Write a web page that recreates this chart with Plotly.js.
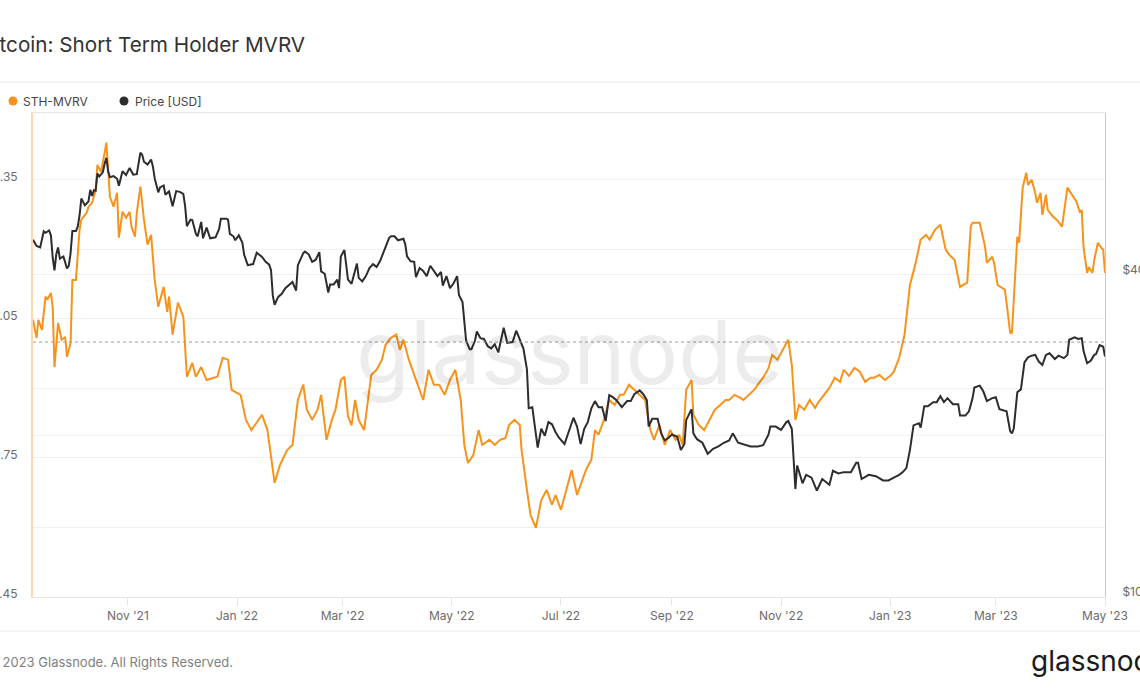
<!DOCTYPE html>
<html>
<head>
<meta charset="utf-8">
<script src="https://cdn.plot.ly/plotly-3.0.1.min.js"></script>
<style>
  html, body { margin: 0; padding: 0; background: #fff; }
  #chart { width: 1140px; height: 694px; }
</style>
</head>
<body>
<div id="chart"></div>
<script>
// STH-MVRV
var mvrvDates = [
  "2021-09-09","2021-09-11","2021-09-12","2021-09-14","2021-09-16","2021-09-17","2021-09-19","2021-09-20","2021-09-21","2021-09-23","2021-09-25","2021-09-27","2021-09-28","2021-09-30",
  "2021-10-01","2021-10-03","2021-10-05","2021-10-06","2021-10-09","2021-10-10","2021-10-12","2021-10-14","2021-10-15","2021-10-17","2021-10-19","2021-10-20","2021-10-22","2021-10-24","2021-10-26","2021-10-27","2021-10-29","2021-10-31",
  "2021-11-02","2021-11-03","2021-11-05","2021-11-06","2021-11-08","2021-11-10","2021-11-12","2021-11-14","2021-11-16","2021-11-18","2021-11-21","2021-11-23","2021-11-24","2021-11-26","2021-11-29",
  "2021-12-02","2021-12-04","2021-12-07","2021-12-09","2021-12-12","2021-12-15","2021-12-21","2021-12-24","2021-12-27","2021-12-29",
  "2022-01-03","2022-01-06","2022-01-09","2022-01-11","2022-01-15","2022-01-18","2022-01-22","2022-01-25","2022-01-29",
  "2022-02-01","2022-02-04","2022-02-07","2022-02-09","2022-02-12","2022-02-15","2022-02-17","2022-02-20","2022-02-23","2022-02-25","2022-02-28",
  "2022-03-02","2022-03-04","2022-03-06","2022-03-08","2022-03-10","2022-03-13","2022-03-15","2022-03-17","2022-03-20","2022-03-23","2022-03-25","2022-03-28","2022-03-31",
  "2022-04-02","2022-04-04","2022-04-07","2022-04-10","2022-04-12","2022-04-15","2022-04-18","2022-04-21","2022-04-24","2022-04-27","2022-04-30",
  "2022-05-03","2022-05-06","2022-05-08","2022-05-10","2022-05-13","2022-05-16","2022-05-18","2022-05-22","2022-05-25","2022-05-28","2022-05-31",
  "2022-06-02","2022-06-05","2022-06-08","2022-06-09","2022-06-12","2022-06-14","2022-06-17","2022-06-20","2022-06-23","2022-06-26","2022-06-28",
  "2022-07-01","2022-07-04","2022-07-07","2022-07-10","2022-07-13","2022-07-15","2022-07-18","2022-07-20","2022-07-22","2022-07-25","2022-07-28","2022-07-31",
  "2022-08-03","2022-08-05","2022-08-08","2022-08-11","2022-08-14","2022-08-17","2022-08-20","2022-08-22","2022-08-25","2022-08-28","2022-08-31",
  "2022-09-03","2022-09-05","2022-09-07","2022-09-09","2022-09-12","2022-09-13","2022-09-16","2022-09-19","2022-09-22","2022-09-25","2022-09-28",
  "2022-10-01","2022-10-03","2022-10-06","2022-10-09","2022-10-11","2022-10-14","2022-10-17","2022-10-19","2022-10-22","2022-10-25","2022-10-27","2022-10-30",
  "2022-11-02","2022-11-05","2022-11-07","2022-11-09","2022-11-11","2022-11-14","2022-11-17","2022-11-20","2022-11-22","2022-11-25","2022-11-28",
  "2022-12-01","2022-12-04","2022-12-06","2022-12-09","2022-12-12","2022-12-15","2022-12-18","2022-12-21","2022-12-23","2022-12-26","2022-12-29",
  "2023-01-01","2023-01-03","2023-01-06","2023-01-09","2023-01-12","2023-01-15","2023-01-18","2023-01-21","2023-01-23","2023-01-26","2023-01-29",
  "2023-02-01","2023-02-03","2023-02-06","2023-02-09","2023-02-13","2023-02-15","2023-02-16","2023-02-20","2023-02-23","2023-02-24","2023-02-27","2023-02-28",
  "2023-03-02","2023-03-06","2023-03-07","2023-03-09","2023-03-10","2023-03-12","2023-03-13","2023-03-14","2023-03-16","2023-03-18","2023-03-19","2023-03-21","2023-03-23","2023-03-24","2023-03-26","2023-03-27","2023-03-29","2023-03-30",
  "2023-04-02","2023-04-04","2023-04-07","2023-04-10","2023-04-12","2023-04-15","2023-04-17","2023-04-18","2023-04-19","2023-04-21","2023-04-22","2023-04-24","2023-04-25","2023-04-27","2023-04-29","2023-04-30",
  "2023-05-01"
];
var mvrvValues = [
  1.048,1.009,1.048,1.026,1.098,1.091,1.106,1.076,0.946,1.041,1.005,1.011,0.968,0.998,
  1.134,1.134,1.242,1.264,1.279,1.292,1.300,1.328,1.382,1.367,1.408,1.430,1.313,1.292,1.322,1.225,1.281,1.268,
  1.281,1.249,1.227,1.279,1.335,1.264,1.210,1.231,1.134,1.076,1.119,1.065,1.098,1.016,1.085,
  1.054,0.925,0.955,0.925,0.946,0.918,0.925,0.966,0.962,0.897,
  0.886,0.832,0.810,0.821,0.843,0.810,0.696,0.735,0.767,
  0.778,0.875,0.908,0.854,0.832,0.854,0.886,0.789,0.832,0.854,0.918,
  0.925,0.840,0.820,0.875,0.832,0.810,0.875,0.929,0.940,0.962,0.994,1.009,1.016,
  0.983,1.005,0.962,0.929,0.908,0.875,0.940,0.908,0.908,0.886,0.918,
  0.940,0.875,0.778,0.739,0.756,0.810,0.778,0.789,0.778,0.789,0.793,
  0.821,0.832,0.821,0.767,0.681,0.627,0.599,0.659,0.681,0.649,0.670,
  0.638,0.681,0.724,0.670,0.703,0.724,0.746,0.810,0.800,0.832,0.875,0.864,
  0.886,0.886,0.908,0.897,0.886,0.875,0.810,0.789,0.821,0.778,0.810,
  0.789,0.800,0.778,0.897,0.918,0.843,0.821,0.810,0.832,0.854,0.864,
  0.875,0.875,0.886,0.880,0.875,0.886,0.897,0.908,0.923,0.944,0.972,0.962,
  0.983,1.005,0.951,0.832,0.864,0.854,0.875,0.858,0.871,0.886,0.901,
  0.923,0.914,0.940,0.927,0.944,0.936,0.914,0.923,0.923,0.929,0.918,
  0.927,0.936,0.966,1.016,1.123,1.167,1.221,1.231,1.221,1.242,1.253,
  1.199,1.188,1.177,1.119,1.128,1.249,1.257,1.257,1.205,1.171,1.184,1.171,
  1.123,1.113,1.085,1.020,1.020,1.149,1.227,1.214,1.333,1.365,1.339,1.350,1.322,1.300,1.322,1.274,1.318,1.285,
  1.270,1.264,1.249,1.333,1.322,1.303,1.279,1.285,1.205,1.149,1.162,1.149,1.177,1.214,1.203,1.199,
  1.149
];

// BTC price in USD (thousands)
var priceDates = [
  "2021-09-09","2021-09-11","2021-09-13","2021-09-15","2021-09-16","2021-09-18","2021-09-19","2021-09-20","2021-09-21","2021-09-22","2021-09-23","2021-09-24","2021-09-26","2021-09-28","2021-09-29","2021-09-30",
  "2021-10-01","2021-10-03","2021-10-04","2021-10-05","2021-10-06","2021-10-08","2021-10-10","2021-10-11","2021-10-12","2021-10-13","2021-10-14","2021-10-15","2021-10-16","2021-10-18","2021-10-19","2021-10-20","2021-10-21","2021-10-22","2021-10-24","2021-10-26","2021-10-27","2021-10-28","2021-10-29","2021-10-31",
  "2021-11-02","2021-11-04","2021-11-06","2021-11-08","2021-11-09","2021-11-10","2021-11-12","2021-11-14","2021-11-15","2021-11-16","2021-11-18","2021-11-19","2021-11-21","2021-11-22","2021-11-24","2021-11-26","2021-11-28","2021-11-30",
  "2021-12-02","2021-12-03","2021-12-04","2021-12-06","2021-12-07","2021-12-09","2021-12-10","2021-12-12","2021-12-13","2021-12-15","2021-12-17","2021-12-20","2021-12-22","2021-12-23","2021-12-26","2021-12-27","2021-12-28","2021-12-30","2021-12-31",
  "2022-01-02","2022-01-04","2022-01-05","2022-01-07","2022-01-10","2022-01-12","2022-01-15","2022-01-17","2022-01-19","2022-01-20","2022-01-21","2022-01-22","2022-01-24","2022-01-26","2022-01-28","2022-01-30",
  "2022-02-01","2022-02-03","2022-02-04","2022-02-07","2022-02-08","2022-02-10","2022-02-12","2022-02-14","2022-02-16","2022-02-17","2022-02-19","2022-02-21","2022-02-22","2022-02-24","2022-02-26","2022-02-27","2022-02-28",
  "2022-03-02","2022-03-04","2022-03-06","2022-03-09","2022-03-10","2022-03-12","2022-03-14","2022-03-16","2022-03-18","2022-03-20","2022-03-22","2022-03-24","2022-03-27","2022-03-28","2022-03-30",
  "2022-04-01","2022-04-04","2022-04-05","2022-04-06","2022-04-08","2022-04-10","2022-04-11","2022-04-13","2022-04-15","2022-04-17","2022-04-19","2022-04-21","2022-04-23","2022-04-25","2022-04-26","2022-04-28","2022-04-30",
  "2022-05-02","2022-05-04","2022-05-05","2022-05-07","2022-05-09","2022-05-11","2022-05-12","2022-05-14","2022-05-15","2022-05-17","2022-05-19","2022-05-21","2022-05-23","2022-05-25","2022-05-27","2022-05-30",
  "2022-06-01","2022-06-04","2022-06-06","2022-06-08","2022-06-10","2022-06-12","2022-06-13","2022-06-15","2022-06-17","2022-06-18","2022-06-20","2022-06-22","2022-06-24","2022-06-26","2022-06-28","2022-06-30",
  "2022-07-03","2022-07-05","2022-07-08","2022-07-10","2022-07-12","2022-07-14","2022-07-16","2022-07-18","2022-07-20","2022-07-22","2022-07-24","2022-07-26","2022-07-28","2022-07-30",
  "2022-08-01","2022-08-04","2022-08-07","2022-08-09","2022-08-11","2022-08-14","2022-08-16","2022-08-18","2022-08-19","2022-08-21","2022-08-24","2022-08-26","2022-08-28","2022-08-30",
  "2022-09-01","2022-09-04","2022-09-06","2022-09-08","2022-09-09","2022-09-12","2022-09-13","2022-09-15","2022-09-18","2022-09-21","2022-09-24","2022-09-27","2022-09-30",
  "2022-10-03","2022-10-05","2022-10-08","2022-10-12","2022-10-15","2022-10-19","2022-10-22","2022-10-25","2022-10-26","2022-10-29",
  "2022-11-01","2022-11-04","2022-11-05","2022-11-07","2022-11-08","2022-11-09","2022-11-10","2022-11-13","2022-11-15","2022-11-18","2022-11-21","2022-11-24","2022-11-28","2022-11-30",
  "2022-12-03","2022-12-06","2022-12-10","2022-12-13","2022-12-14","2022-12-16","2022-12-20","2022-12-24","2022-12-28","2022-12-31",
  "2023-01-03","2023-01-06","2023-01-08","2023-01-10","2023-01-12","2023-01-14","2023-01-17","2023-01-18","2023-01-20","2023-01-22","2023-01-25","2023-01-27","2023-01-29","2023-01-31",
  "2023-02-02","2023-02-05","2023-02-08","2023-02-09","2023-02-12","2023-02-14","2023-02-16","2023-02-17","2023-02-20","2023-02-22","2023-02-24","2023-02-27",
  "2023-03-01","2023-03-03","2023-03-07","2023-03-09","2023-03-10","2023-03-11","2023-03-13","2023-03-15","2023-03-17","2023-03-19","2023-03-21","2023-03-23","2023-03-25","2023-03-27","2023-03-29","2023-03-31",
  "2023-04-03","2023-04-05","2023-04-08","2023-04-10","2023-04-11","2023-04-13","2023-04-14","2023-04-16","2023-04-18","2023-04-19","2023-04-21","2023-04-23","2023-04-25","2023-04-26","2023-04-28","2023-04-30",
  "2023-05-01"
];
var priceK = [
  46.4,45.2,44.9,48.1,47.8,48.3,47.3,43.0,40.7,43.6,44.9,42.8,43.2,41.0,41.5,43.8,
  48.2,48.2,49.1,51.5,55.4,53.8,54.7,57.5,56.0,57.4,57.3,61.7,60.9,62.0,64.3,66.0,62.2,60.7,61.0,60.3,58.5,60.6,62.3,61.3,
  63.2,61.4,61.5,67.5,66.9,64.9,64.1,65.5,63.6,60.4,56.9,58.1,58.6,56.3,57.1,53.6,57.2,57.0,
  56.5,53.6,49.2,50.6,50.5,47.6,47.1,50.1,46.7,48.9,46.7,46.9,48.6,50.8,50.8,50.6,47.6,47.1,46.3,
  47.3,45.8,43.5,41.6,41.8,43.9,43.1,42.2,41.7,40.7,36.5,35.1,36.3,36.8,37.7,38.2,
  38.7,37.3,41.6,43.8,44.1,43.6,42.2,42.6,44.0,40.5,40.1,37.0,38.3,38.3,39.1,37.7,43.2,
  44.4,39.1,38.4,41.9,39.4,38.8,39.7,41.1,41.8,41.3,42.4,44.0,46.8,47.1,47.1,
  46.3,46.6,45.5,43.2,42.3,42.2,39.5,41.1,40.6,39.7,41.5,40.5,39.7,40.4,38.1,39.7,37.7,
  38.5,39.7,36.6,35.5,30.1,29.0,29.0,30.1,31.3,30.4,30.3,29.4,29.1,29.6,28.6,31.8,
  29.8,29.9,31.4,30.2,29.1,26.6,22.5,22.6,20.4,19.0,20.6,20.0,21.2,21.0,20.3,19.8,
  19.3,20.2,21.6,20.8,19.3,20.6,21.2,22.5,23.2,22.6,22.6,21.3,23.8,23.6,
  23.3,22.6,23.2,23.2,23.9,24.3,23.9,23.3,20.8,21.5,21.5,20.2,19.6,19.8,
  20.1,19.9,18.8,19.3,21.4,22.4,20.2,19.7,19.4,18.5,18.9,19.1,19.4,
  19.6,20.2,19.4,19.2,19.1,19.1,19.2,20.1,20.8,20.8,
  20.5,21.2,21.3,20.6,18.5,15.9,17.6,16.3,16.9,16.7,15.8,16.6,16.2,17.2,
  17.0,17.1,17.1,17.8,17.8,16.6,16.9,16.8,16.5,16.5,
  16.7,16.9,17.1,17.4,18.8,20.9,21.1,20.7,22.7,22.7,23.1,23.1,23.7,23.1,
  23.5,22.9,22.9,21.8,21.8,22.2,23.5,24.6,24.8,24.2,23.2,23.5,
  23.6,22.4,22.2,20.4,20.2,20.6,24.1,24.4,27.4,28.0,28.2,28.3,27.5,27.1,28.3,28.5,
  27.8,28.2,27.9,28.3,30.2,30.4,30.5,30.3,30.4,28.8,27.3,27.6,28.3,28.4,29.5,29.3,
  28.1
];
var priceUsd = priceK.map(function(v){ return v * 1000; });

// axis ticks
var mvrvTicks = [0.45, 0.75, 1.05, 1.35];
var priceTicks = [10000, 20000, 40000];
var priceTickText = ["$10k", "", "$40k"];

var orange = 'rgb(247, 147, 26)';
var dark = 'rgb(45, 45, 45)';
var labelColor = '#6b6b6b';
var gridColor = '#f0f0f0';

// plot area edges in px, used to place the decorations outside it
var plotL = 33, plotR = 1105, plotT = 113, plotB = 597;
function px(x){ return (x - plotL) / (plotR - plotL); }
function py(y){ return (plotB - y) / (plotB - plotT); }

var tracePrice = {
    x: priceDates,
    y: priceUsd,
    yaxis: 'y2',
    type: 'scatter',
    mode: 'lines',
    name: 'Price [USD]',
    showlegend: false,
    line: {color: dark, width: 2}
};

var traceMvrv = {
    x: mvrvDates,
    y: mvrvValues,
    type: 'scatter',
    mode: 'lines',
    name: 'STH-MVRV',
    showlegend: false,
    line: {color: orange, width: 2}
};

var layout = {
    width: 1140,
    height: 694,
    margin: {l: plotL, r: 1140 - plotR, t: plotT, b: 694 - plotB},
    paper_bgcolor: '#fff',
    plot_bgcolor: '#fff',
    font: {family: 'Inter, "Noto Sans", sans-serif', color: labelColor, size: 12},
    showlegend: false,
    xaxis: {
        type: 'date',
        range: ['2021-09-09', '2023-05-01'],
        tick0: '2021-11-01',
        dtick: 'M2',
        tickformat: "%b '%y",
        ticks: 'outside',
        ticklen: 8,
        tickcolor: '#e6e6e6',
        showgrid: false,
        zeroline: false,
        showline: true,
        mirror: true,
        linecolor: '#e6e6e6',
        linewidth: 1,
        tickfont: {size: 12, color: labelColor},
        fixedrange: true
    },
    yaxis: {
        range: [0.45, 1.494],
        tickvals: mvrvTicks,
        tickformat: '.2f',
        ticks: '',
        ticklabelstandoff: 11,
        ticklabelshift: -3,
        showgrid: true,
        gridcolor: gridColor,
        minor: {dtick: 0.15, tick0: 0.45, showgrid: true, gridcolor: gridColor, ticks: ''},
        zeroline: false,
        showline: true,
        linecolor: '#fcd9ae',
        linewidth: 2,
        automargin: false,
        tickfont: {size: 12, color: labelColor},
        fixedrange: true
    },
    yaxis2: {
        type: 'log',
        overlaying: 'y',
        side: 'right',
        range: [4, Math.log10(80000)],
        tickvals: priceTicks,
        ticktext: priceTickText,
        ticks: '',
        ticklabelstandoff: 14,
        ticklabelshift: -5,
        showgrid: true,
        gridcolor: gridColor,
        zeroline: false,
        showline: true,
        linecolor: '#c8c8c8',
        linewidth: 1,
        automargin: false,
        tickfont: {size: 12, color: labelColor},
        fixedrange: true
    },
    shapes: [
        // MVRV = 1 reference
        {type: 'line', xref: 'paper', yref: 'y', x0: 0, x1: 1, y0: 1, y1: 1,
         line: {color: '#9a9a9a', width: 1, dash: 'dot'}},
        // separators
        {type: 'line', xref: 'paper', yref: 'paper', x0: px(0), x1: px(1140), y0: py(82), y1: py(82),
         line: {color: '#e8e8e8', width: 1}},
        {type: 'line', xref: 'paper', yref: 'paper', x0: px(0), x1: px(1140), y0: py(631), y1: py(631),
         line: {color: '#e8e8e8', width: 1}},
        // legend dots
        {type: 'circle', xref: 'paper', yref: 'paper', xsizemode: 'pixel', ysizemode: 'pixel',
         xanchor: px(13), yanchor: py(101), x0: -4.5, x1: 4.5, y0: -4.5, y1: 4.5,
         fillcolor: orange, line: {width: 0}},
        {type: 'circle', xref: 'paper', yref: 'paper', xsizemode: 'pixel', ysizemode: 'pixel',
         xanchor: px(124), yanchor: py(101), x0: -4.5, x1: 4.5, y0: -4.5, y1: 4.5,
         fillcolor: dark, line: {width: 0}}
    ],
    annotations: [
        // title, its first letters run off the left edge as in the source
        {text: 'Bitcoin: Short Term Holder MVRV', xref: 'paper', yref: 'paper', x: px(-21), y: py(44),
         xanchor: 'left', yanchor: 'middle', showarrow: false,
         font: {family: 'Inter, sans-serif', size: 20.7, color: '#333'}},
        {text: 'glassnode', xref: 'paper', yref: 'paper', x: px(570), y: py(352),
         showarrow: false, font: {family: 'Inter, sans-serif', size: 88, color: 'rgba(0,0,0,0.075)'}},
        {text: 'STH-MVRV', xref: 'paper', yref: 'paper', x: px(21), y: py(101), xanchor: 'left', yanchor: 'middle',
         showarrow: false, font: {size: 12, color: '#444'}},
        {text: 'Price [USD]', xref: 'paper', yref: 'paper', x: px(133), y: py(101), xanchor: 'left', yanchor: 'middle',
         showarrow: false, font: {size: 12, color: '#444'}},
        {text: '© 2023 Glassnode. All Rights Reserved.', xref: 'paper', yref: 'paper', x: px(-15), y: py(662),
         xanchor: 'left', yanchor: 'middle', showarrow: false, font: {size: 13, color: '#808080'}},
        {text: 'glassnode', xref: 'paper', yref: 'paper', x: px(1029), y: py(661),
         xanchor: 'left', yanchor: 'middle', showarrow: false, font: {family: 'Inter, sans-serif', size: 28, color: '#1a1a1a'}}
    ]
};

Plotly.newPlot('chart', [tracePrice, traceMvrv], layout, {displayModeBar: false, staticPlot: true});
</script>
</body>
</html>
